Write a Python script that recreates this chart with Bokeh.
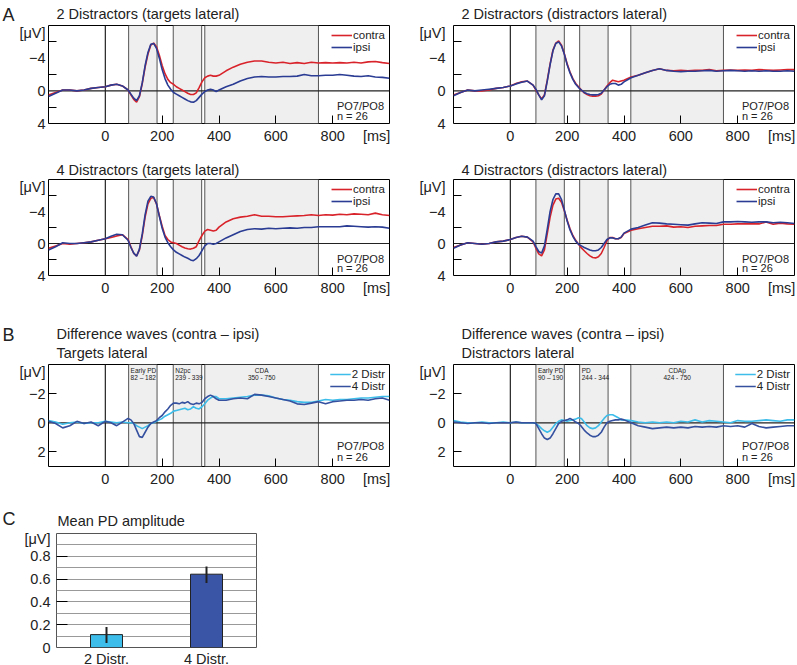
from bokeh.plotting import figure
from bokeh.models import Range1d, FixedTicker, BoxAnnotation, Span, Label, FactorRange, Title
from bokeh.layouts import column, row
from bokeh.embed import file_html
from bokeh.resources import INLINE

FONT = "Liberation Sans"

# ---------------- data ----------------
t_ms = [-200, -175, -150, -125, -100, -75, -50, -25,
        0, 20, 40, 60, 80, 90,
        100, 110, 120, 130, 140, 150, 160, 170, 180, 190,
        200, 210, 220, 230, 240, 250, 260, 270, 280, 290,
        300, 310, 320, 330, 340, 350, 360, 370, 380, 390,
        400, 425, 450, 475, 500, 525, 550, 575, 600, 625, 650, 675, 700,
        725, 750, 775, 800, 825, 850, 875, 900, 925, 950, 975, 1000]

# 2 Distractors (targets lateral)
a1_contra = [0.5, 0.2, -0.1, -0.1, 0.0, -0.1, -0.3, -0.4,
             -0.5, -0.7, -0.8, -0.6, -0.1, 0.5,
             1.05, 1.4, 0.7, -0.9, -2.9, -4.5, -5.6, -5.85, -5.4, -4.35,
             -3.1, -2.1, -1.4, -1.0, -0.8, -0.5, -0.3, -0.1, 0.1, 0.3,
             0.45, 0.45, 0.25, -0.4, -1.1, -1.6, -1.8, -1.9, -1.8, -1.8,
             -1.9, -2.45, -2.9, -3.25, -3.5, -3.65, -3.65, -3.5, -3.4, -3.5, -3.35, -3.45, -3.35,
             -3.5, -3.4, -3.45, -3.4, -3.45, -3.4, -3.5, -3.4, -3.55, -3.6, -3.45, -3.35]
a1_ipsi = [0.7, 0.3, -0.1, -0.1, 0.0, -0.1, -0.3, -0.4,
           -0.5, -0.7, -0.8, -0.6, -0.1, 0.4,
           0.9, 1.2, 0.6, -1.0, -3.1, -4.7, -5.7, -5.8, -5.2, -4.0,
           -2.6, -1.5, -0.7, -0.2, 0.2, 0.4, 0.6, 0.8, 1.0, 1.2,
           1.35, 1.4, 1.2, 0.8, 0.4, 0.1, -0.1, -0.2, -0.1, 0.1,
           -0.1, -0.5, -0.8, -1.2, -1.5, -1.7, -1.75, -1.7, -1.7, -1.75, -1.75, -1.8, -2.0,
           -1.85, -1.85, -1.9, -1.9, -2.0, -1.9, -1.8, -1.75, -1.85, -1.7, -1.65, -1.55]

# 2 Distractors (distractors lateral)
a2_contra = [0.5, 0.2, -0.1, 0.0, 0.0, -0.1, -0.3, -0.4,
             -0.6, -0.9, -1.1, -1.2, -0.7, -0.1,
             0.5, 1.0, 0.5, -1.3, -3.3, -5.0, -5.85, -6.1, -5.6, -4.55,
             -3.3, -2.3, -1.5, -0.9, -0.5, -0.1, 0.25, 0.45, 0.6, 0.65,
             0.65, 0.6, 0.4, -0.1, -0.6, -1.0, -1.3, -1.2, -1.1, -1.2,
             -1.3, -1.7, -1.9, -2.2, -2.5, -2.7, -2.5, -2.45, -2.5, -2.45, -2.5, -2.5, -2.6,
             -2.45, -2.5, -2.55, -2.5, -2.55, -2.5, -2.6, -2.55, -2.5, -2.55, -2.6, -2.6]
a2_ipsi = [0.6, 0.2, -0.1, 0.0, -0.1, -0.2, -0.3, -0.4,
           -0.6, -0.85, -1.05, -1.2, -0.7, -0.2,
           0.5, 1.1, 0.6, -1.2, -3.2, -4.9, -5.8, -6.0, -5.5, -4.5,
           -3.2, -2.2, -1.4, -0.8, -0.4, -0.1, 0.2, 0.35, 0.45, 0.5,
           0.5, 0.45, 0.3, -0.1, -0.5, -0.8, -0.9, -0.9, -0.7, -0.8,
           -1.1, -1.6, -1.9, -2.2, -2.5, -2.7, -2.5, -2.4, -2.35, -2.4, -2.4, -2.45, -2.5,
           -2.4, -2.45, -2.5, -2.45, -2.4, -2.45, -2.4, -2.45, -2.4, -2.4, -2.45, -2.4]

# 4 Distractors (targets lateral)
a3_contra = [0.6, 0.3, 0.0, 0.1, 0.0, -0.1, -0.2, -0.4,
             -0.6, -0.75, -0.95, -1.1, -0.5, 0.4,
             1.25, 1.55, 0.8, -1.0, -3.3, -4.95, -5.65, -5.75, -4.95, -3.5,
             -2.15, -1.0, -0.5, -0.2, -0.1, 0.0, 0.2, 0.4, 0.55, 0.65,
             0.7, 0.6, 0.4, -0.35, -1.0, -1.55, -1.75, -1.65, -1.55, -1.65,
             -2.05, -2.7, -3.1, -3.3, -3.4, -3.6, -3.4, -3.4, -3.35, -3.35, -3.4, -3.45, -3.5,
             -3.6, -3.5, -3.6, -3.55, -3.65, -3.6, -3.7, -3.65, -3.6, -3.8, -3.6, -3.5]
a3_ipsi = [0.8, 0.4, -0.1, 0.0, 0.0, -0.1, -0.2, -0.4,
           -0.6, -0.9, -1.15, -1.1, -0.4, 0.5,
           1.2, 1.6, 0.7, -1.2, -3.6, -5.3, -5.9, -5.8, -5.0, -3.4,
           -1.9, -0.8, -0.1, 0.4, 0.8, 1.1, 1.3, 1.5, 1.7, 1.85,
           2.05, 2.15, 1.9, 1.5, 0.9, 0.3, 0.0, 0.0, 0.1, 0.0,
           -0.2, -0.7, -1.1, -1.5, -1.75, -1.85, -1.8, -1.9, -1.85, -1.9, -1.95, -1.9, -2.0,
           -2.0, -2.1, -2.1, -2.1, -2.1, -2.2, -2.15, -2.1, -2.05, -2.1, -2.05, -1.9]

# 4 Distractors (distractors lateral)
a4_contra = [0.5, 0.2, -0.1, 0.0, 0.1, 0.0, -0.2, -0.3,
             -0.5, -0.75, -0.9, -0.8, -0.2, 0.6,
             1.3, 1.55, 0.8, -1.25, -3.3, -4.8, -5.55, -5.65, -5.15, -4.1,
             -2.9, -1.85, -1.0, -0.4, 0.1, 0.55, 0.9, 1.25, 1.55, 1.75,
             1.8, 1.65, 1.25, 0.5, -0.35, -0.75, -0.75, -0.6, -0.6, -0.75,
             -1.25, -1.65, -1.85, -2.0, -2.15, -2.15, -2.2, -2.05, -2.1, -2.0, -2.15, -2.2, -2.25,
             -2.25, -2.4, -2.4, -2.45, -2.45, -2.45, -2.45, -2.7, -2.4, -2.55, -2.45, -2.4]
a4_ipsi = [0.6, 0.2, -0.1, 0.0, 0.1, 0.0, -0.2, -0.3,
           -0.5, -0.75, -0.9, -0.8, -0.3, 0.4,
           1.0, 1.2, 0.3, -1.8, -4.0, -5.5, -6.2, -6.2, -5.5, -4.2,
           -2.8, -1.7, -0.9, -0.3, 0.1, 0.3, 0.5, 0.65, 0.8, 0.9,
           0.9, 0.8, 0.5, 0.0, -0.5, -0.7, -0.7, -0.6, -0.6, -0.8,
           -1.3, -1.8, -2.0, -2.3, -2.6, -2.55, -2.45, -2.4, -2.35, -2.3, -2.45, -2.6, -2.55,
           -2.5, -2.7, -2.7, -2.75, -2.7, -2.65, -2.7, -2.7, -2.6, -2.65, -2.6, -2.5]

# Difference waves, targets lateral
b1_2d = [-0.15, -0.05, 0.1, 0.0, -0.05, 0.05, 0.0, 0.0,
         -0.1, -0.05, 0.0, -0.05, 0.0, 0.0,
         0.05, 0.2, 0.3, 0.4, 0.3, 0.2, 0.05, 0.0, -0.1, -0.2,
         -0.3, -0.45, -0.55, -0.65, -0.8, -0.85, -0.9, -0.95, -1.0, -0.9,
         -0.95, -1.1, -1.0, -0.95, -1.1, -1.3, -1.55, -1.7, -1.8, -1.8,
         -1.65, -1.65, -1.7, -1.75, -1.8, -1.9, -1.9, -1.85, -1.7, -1.6, -1.55, -1.45, -1.4,
         -1.4, -1.5, -1.6, -1.55, -1.6, -1.6, -1.65, -1.7, -1.7, -1.75, -1.8, -1.8]
b1_4d = [-0.1, 0.05, 0.35, 0.2, -0.1, 0.05, -0.05, 0.2,
         -0.1, 0.0, 0.2, -0.05, -0.3, -0.2,
         0.05, 0.5, 0.95, 1.0, 0.65, 0.3, 0.05, -0.05, -0.15, -0.35,
         -0.5, -0.75, -0.95, -1.2, -1.35, -1.35, -1.3, -1.4, -1.35, -1.45,
         -1.3, -1.25, -1.35, -1.3, -1.4, -1.65, -1.8, -1.9, -1.8, -1.65,
         -1.55, -1.55, -1.65, -1.7, -1.65, -1.95, -1.9, -1.8, -1.7, -1.6, -1.5, -1.3, -1.25,
         -1.35, -1.45, -1.3, -1.45, -1.5, -1.55, -1.55, -1.6, -1.55, -1.65, -1.7, -1.55]

# Difference waves, distractors lateral
b2_2d = [-0.15, -0.05, 0.0, 0.0, -0.05, 0.0, 0.0, -0.05,
         0.0, -0.05, 0.0, 0.0, 0.0, 0.05,
         0.2, 0.4, 0.55, 0.65, 0.55, 0.3, 0.05, -0.1, -0.2, -0.15,
         -0.1, -0.15, -0.2, -0.25, -0.35, -0.3, -0.05, 0.2, 0.35, 0.4,
         0.35, 0.2, -0.05, -0.3, -0.5, -0.55, -0.55, -0.45, -0.35, -0.2,
         -0.2, -0.15, -0.05, 0.0, -0.05, 0.0, -0.05, 0.0, -0.1, -0.05, -0.2, -0.05, -0.15,
         -0.1, -0.05, 0.0, -0.15, -0.1, -0.1, -0.15, -0.2, -0.15, -0.1, -0.2, -0.2]
b2_4d = [-0.05, 0.0, 0.05, 0.0, 0.0, 0.05, 0.0, 0.0,
         0.0, -0.05, 0.0, 0.0, 0.0, 0.05,
         0.4, 0.75, 1.05, 1.15, 1.05, 0.75, 0.4, 0.05, -0.1, -0.15,
         -0.2, -0.3, -0.2, -0.05, 0.05, 0.25, 0.5, 0.7, 0.85, 0.95,
         0.95, 0.85, 0.65, 0.3, 0.0, -0.1, -0.15, -0.2, -0.2, -0.25,
         -0.2, 0.0, 0.2, 0.3, 0.4, 0.35, 0.3, 0.35, 0.3, 0.35, 0.25, 0.3, 0.25,
         0.3, 0.2, 0.25, 0.2, 0.3, 0.05, 0.25, 0.35, 0.3, 0.25, 0.2, 0.2]

# analysis windows (ms)
tl_win_start = [82, 239, 350]
tl_win_end = [182, 339, 750]
dl_win_start = [90, 244, 424]
dl_win_end = [190, 344, 750]
tl_win_names = ["Early PD", "N2pc", "CDA"]
tl_win_ranges = ["82 \u2013 182", "239 - 339", "350 - 750"]
dl_win_names = ["Early PD", "PD", "CDAp"]
dl_win_ranges = ["90 \u2013 190", "244 - 344", "424 - 750"]

# Panel C
c_cats = ["2 Distr.", "4 Distr."]
c_vals = [0.113, 0.643]
c_err_lo = [0.04, 0.565]
c_err_hi = [0.18, 0.71]
c_colors = ["#3dbde9", "#3a55a6"]

x_tick_vals = [0, 200, 400, 600, 800]

RED = "#d9232b"
NAVY = "#2a3c93"
LIGHT = "#3dbde9"
DARK = "#34509f"
SHADE = "#efefef"
TXT = "#222222"


def add_title(p, text, size, offset, standoff):
    p.add_layout(Title(text=text, align="left", offset=offset, standoff=standoff,
                       text_font=FONT, text_font_size=size, text_font_style="normal",
                       text_color=TXT), "above")


def letter_fig(letter, h, top, standoff):
    p = figure(width=16, height=h, title=None, x_range=Range1d(0, 1), y_range=Range1d(0, 1),
               x_axis_location=None, y_axis_location=None,
               output_backend="svg", toolbar_location=None,
               min_border_left=0, min_border_right=0, min_border_top=top, min_border_bottom=0)
    p.grid.visible = False
    p.outline_line_color = None
    add_title(p, letter, "18px", 2, standoff)
    return p


def erp_fig(fw, fh, mbl, mbr, mbt, mbb, y_bottom, y_top, y_major, y_minor,
            y_over, y_standoff):
    p = figure(frame_width=fw, frame_height=fh, title=None,
               x_range=Range1d(-200, 1000), y_range=Range1d(y_bottom, y_top),
               output_backend="svg", toolbar_location=None,
               min_border_left=mbl, min_border_right=mbr,
               min_border_top=mbt, min_border_bottom=mbb)
    p.outline_line_color = "black"
    p.outline_line_width = 1
    p.grid.visible = False
    p.background_fill_color = "white"
    p.border_fill_color = "white"
    xa = p.xaxis[0]
    xa.ticker = FixedTicker(ticks=x_tick_vals + [955], minor_ticks=x_tick_vals[1:])
    xa.major_label_overrides = {955: "[ms]"}
    ya = p.yaxis[0]
    ya.ticker = FixedTicker(ticks=y_major, minor_ticks=y_minor)
    ya.major_label_overrides = y_over
    ya.major_label_standoff = y_standoff
    xa.major_label_standoff = 4
    for ax in (xa, ya):
        ax.axis_line_color = None
        ax.major_tick_in = 0
        ax.major_tick_out = 0
        ax.minor_tick_in = 8
        ax.minor_tick_out = 0
        ax.minor_tick_line_color = "black"
        ax.major_label_text_font = FONT
        ax.major_label_text_font_size = "14.5px"
        ax.major_label_text_color = TXT
    return p


def decorate(p, starts, ends):
    for s, e in zip(starts, ends):
        p.add_layout(BoxAnnotation(left=s, right=e, fill_color=SHADE, fill_alpha=1,
                                   line_color=None, level="underlay"))
    for s, e in zip(starts, ends):
        for loc in (s, e):
            p.add_layout(Span(location=loc, dimension="height", line_color="#555",
                              line_width=1, level="underlay"))
    p.add_layout(Span(location=0, dimension="height", line_color=TXT,
                      line_width=1.2, level="underlay"))
    p.add_layout(Span(location=0, dimension="width", line_color=TXT,
                      line_width=1.2, level="underlay"))


def style_legend(p, spacing_h):
    lg = p.legend[0]
    lg.location = "top_right"
    lg.border_line_color = None
    lg.background_fill_alpha = 0
    lg.label_text_font = FONT
    lg.label_text_font_size = "11.5px"
    lg.label_text_color = TXT
    lg.glyph_width = 21
    lg.glyph_height = spacing_h
    lg.label_height = spacing_h
    lg.spacing = 0
    lg.padding = 3
    lg.margin = 4
    lg.label_standoff = 1


def add_text(p, x, y, text, size="11px", align="left"):
    p.add_layout(Label(x=x, y=y, text=text, text_font=FONT, text_font_size=size,
                       text_align=align, text_baseline="middle", text_color=TXT))


A_major = [-7.1, -4, 0, 4]
A_minor = [-6, -2, 2]
A_over = {-7.1: "[\u03bcV]", -4: "\u22124", 0: "0", 4: "4"}
B_major = [-3.5, -2, 0, 2]
B_minor = [-2, 2]
B_over = {-3.5: "[\u03bcV]", -2: "\u22122", 0: "0", 2: "2"}


def panel_A(mbl, mbr, y_std, top, fh, mbb, title, t_std, contra, ipsi, starts, ends):
    p = erp_fig(341, fh, mbl, mbr, top, mbb, 4, -8, A_major, A_minor, A_over, y_std)
    decorate(p, starts, ends)
    p.line(t_ms, contra, line_color=RED, line_width=1.6, legend_label="contra")
    p.line(t_ms, ipsi, line_color=NAVY, line_width=1.6, legend_label="ipsi")
    style_legend(p, 12)
    add_title(p, title, "14.5px", 8, t_std)
    add_text(p, 815, 1.9, "PO7/PO8")
    add_text(p, 815, 3.1, "n = 26")
    return p


def panel_B(mbl, mbr, y_std, title2, v1, v2, starts, ends, names, ranges):
    p = erp_fig(341, 102, mbl, mbr, 64, 34, 3, -4, B_major, B_minor, B_over, y_std)
    decorate(p, starts, ends)
    p.line(t_ms, v1, line_color=LIGHT, line_width=1.6, legend_label="2 Distr")
    p.line(t_ms, v2, line_color=DARK, line_width=1.6, legend_label="4 Distr")
    style_legend(p, 12)
    add_title(p, title2, "14.5px", 8, 7)
    add_title(p, "Difference waves (contra \u2013 ipsi)", "14.5px", 8, -4)
    for i, (s, e) in enumerate(zip(starts, ends)):
        if i < 2:
            xx, al = s + 7, "left"
        else:
            xx, al = (s + e) / 2, "center"
        add_text(p, xx, -3.57, names[i], size="6.5px", align=al)
        add_text(p, xx, -3.09, ranges[i], size="6.5px", align=al)
    add_text(p, 815, 1.59, "PO7/PO8")
    add_text(p, 815, 2.34, "n = 26")
    return p


lA = letter_fig("A", 150, 25, 2)
pA1 = panel_A(32, 14, 3, 25, 98, 27, "2 Distractors (targets lateral)", 6.5,
              a1_contra, a1_ipsi, tl_win_start, tl_win_end)
pA2 = panel_A(50, 2, 8, 25, 98, 27, "2 Distractors (distractors lateral)", 6.5,
              a2_contra, a2_ipsi, dl_win_start, dl_win_end)
pA3 = panel_A(48, 14, 3, 29, 96, 25, "4 Distractors (targets lateral)", 3.5,
              a3_contra, a3_ipsi, tl_win_start, tl_win_end)
pA4 = panel_A(50, 2, 8, 29, 96, 25, "4 Distractors (distractors lateral)", 3.5,
              a4_contra, a4_ipsi, dl_win_start, dl_win_end)
lB = letter_fig("B", 200, 64, 39)
pB1 = panel_B(32, 14, 3, "Targets lateral", b1_2d, b1_4d, tl_win_start, tl_win_end,
              tl_win_names, tl_win_ranges)
pB2 = panel_B(50, 2, 8, "Distractors lateral", b2_2d, b2_4d, dl_win_start, dl_win_end,
              dl_win_names, dl_win_ranges)

# ---------------- Panel C ----------------
lC = letter_fig("C", 164, 33, 9)
pC = figure(frame_width=200, frame_height=114, title=None,
            x_range=FactorRange(factors=c_cats), y_range=Range1d(0, 1.0),
            output_backend="svg", toolbar_location=None,
            min_border_left=40, min_border_right=10, min_border_top=33, min_border_bottom=17)
pC.outline_line_color = "#555"
pC.xgrid.visible = False
pC.ygrid.ticker = FixedTicker(ticks=[0.1, 0.2, 0.3, 0.4, 0.5, 0.6, 0.7, 0.8, 0.9])
pC.ygrid.grid_line_color = "#999"
pC.ygrid.grid_line_width = 1
pC.vbar(x=c_cats, top=c_vals, width=0.32, fill_color=c_colors, line_color=TXT,
        line_width=1)
pC.segment(x0=c_cats, y0=c_err_lo, x1=c_cats, y1=c_err_hi, line_color=TXT, line_width=2)
ya = pC.yaxis[0]
ya.ticker = FixedTicker(ticks=[0, 0.2, 0.4, 0.6, 0.8, 0.955], minor_ticks=[0.2, 0.4, 0.6, 0.8])
ya.major_label_overrides = {0.955: "[\u03bcV]"}
ya.major_label_standoff = 6
xa = pC.xaxis[0]
xa.major_label_standoff = 3
for ax in (xa, ya):
    ax.axis_line_color = None
    ax.major_tick_in = 0
    ax.major_tick_out = 0
    ax.minor_tick_in = 11
    ax.minor_tick_out = 0
    ax.minor_tick_line_color = "black"
    ax.major_label_text_font = FONT
    ax.major_label_text_font_size = "14.5px"
    ax.major_label_text_color = TXT
add_title(pC, "Mean PD amplitude", "14.5px", 1, 9)

layout = column(row(lA, pA1, pA2), row(pA3, pA4), row(lB, pB1, pB2), row(lC, pC))

open("out.html", "w").write(file_html(layout, INLINE))
